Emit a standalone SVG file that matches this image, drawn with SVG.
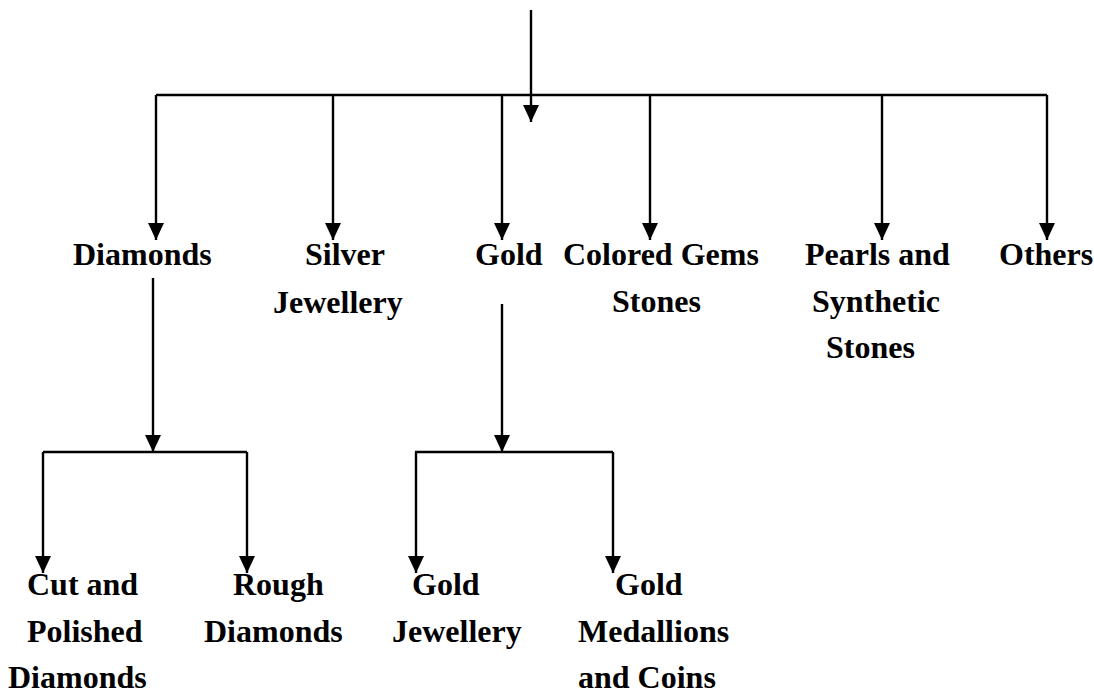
<svg xmlns="http://www.w3.org/2000/svg" width="1094" height="693" viewBox="0 0 1094 693">
<style>
.c{stroke:#000;stroke-width:2.4;fill:none}
.t{font-family:"Liberation Serif","Times New Roman",serif;font-weight:bold;font-size:32px;fill:#000}
</style>
<defs>
<marker id="ah" markerUnits="userSpaceOnUse" markerWidth="18" markerHeight="18" viewBox="0 0 18 18" refX="17" refY="9" orient="auto">
<path d="M0,1 L17,9 L0,17 Z" fill="#000"/>
</marker>
</defs>
<g id="connectors">
<line class="c" x1="531" y1="10" x2="531" y2="122" marker-end="url(#ah)"/>
<polyline class="c" points="156,95 1047,95"/>
<line class="c" x1="156" y1="95" x2="156" y2="240" marker-end="url(#ah)"/>
<line class="c" x1="333" y1="95" x2="333" y2="240" marker-end="url(#ah)"/>
<line class="c" x1="502" y1="95" x2="502" y2="240" marker-end="url(#ah)"/>
<line class="c" x1="650" y1="95" x2="650" y2="240" marker-end="url(#ah)"/>
<line class="c" x1="882" y1="95" x2="882" y2="240" marker-end="url(#ah)"/>
<line class="c" x1="1047" y1="95" x2="1047" y2="240" marker-end="url(#ah)"/>
<line class="c" x1="153" y1="278" x2="153" y2="452" marker-end="url(#ah)"/>
<line class="c" x1="43" y1="452" x2="247" y2="452"/>
<line class="c" x1="43" y1="452" x2="43" y2="573" marker-end="url(#ah)"/>
<line class="c" x1="247" y1="452" x2="247" y2="573" marker-end="url(#ah)"/>
<line class="c" x1="502" y1="304" x2="502" y2="452" marker-end="url(#ah)"/>
<line class="c" x1="415" y1="452" x2="613" y2="452"/>
<line class="c" x1="416" y1="452" x2="416" y2="573" marker-end="url(#ah)"/>
<line class="c" x1="613" y1="452" x2="613" y2="573" marker-end="url(#ah)"/>
</g>
<g id="diamonds"><text class="t" x="73" y="265">Diamonds</text></g>
<g id="silver"><text class="t" x="305" y="265">Silver</text><text class="t" x="273" y="313">Jewellery</text></g>
<g id="gold"><text class="t" x="475" y="265">Gold</text></g>
<g id="colored"><text class="t" x="563" y="265">Colored Gems</text><text class="t" x="612" y="312">Stones</text></g>
<g id="pearls"><text class="t" x="805" y="265">Pearls and</text><text class="t" x="812" y="312">Synthetic</text><text class="t" x="826" y="358">Stones</text></g>
<g id="others"><text class="t" x="999" y="265">Others</text></g>
<g id="cut"><text class="t" x="27" y="595">Cut and</text><text class="t" x="27" y="642">Polished</text><text class="t" x="8" y="688">Diamonds</text></g>
<g id="rough"><text class="t" x="233" y="595">Rough</text><text class="t" x="204" y="642">Diamonds</text></g>
<g id="goldjew"><text class="t" x="412" y="595">Gold</text><text class="t" x="392" y="642">Jewellery</text></g>
<g id="goldmed"><text class="t" x="615" y="595">Gold</text><text class="t" x="578" y="642">Medallions</text><text class="t" x="578" y="688">and Coins</text></g>
</svg>
